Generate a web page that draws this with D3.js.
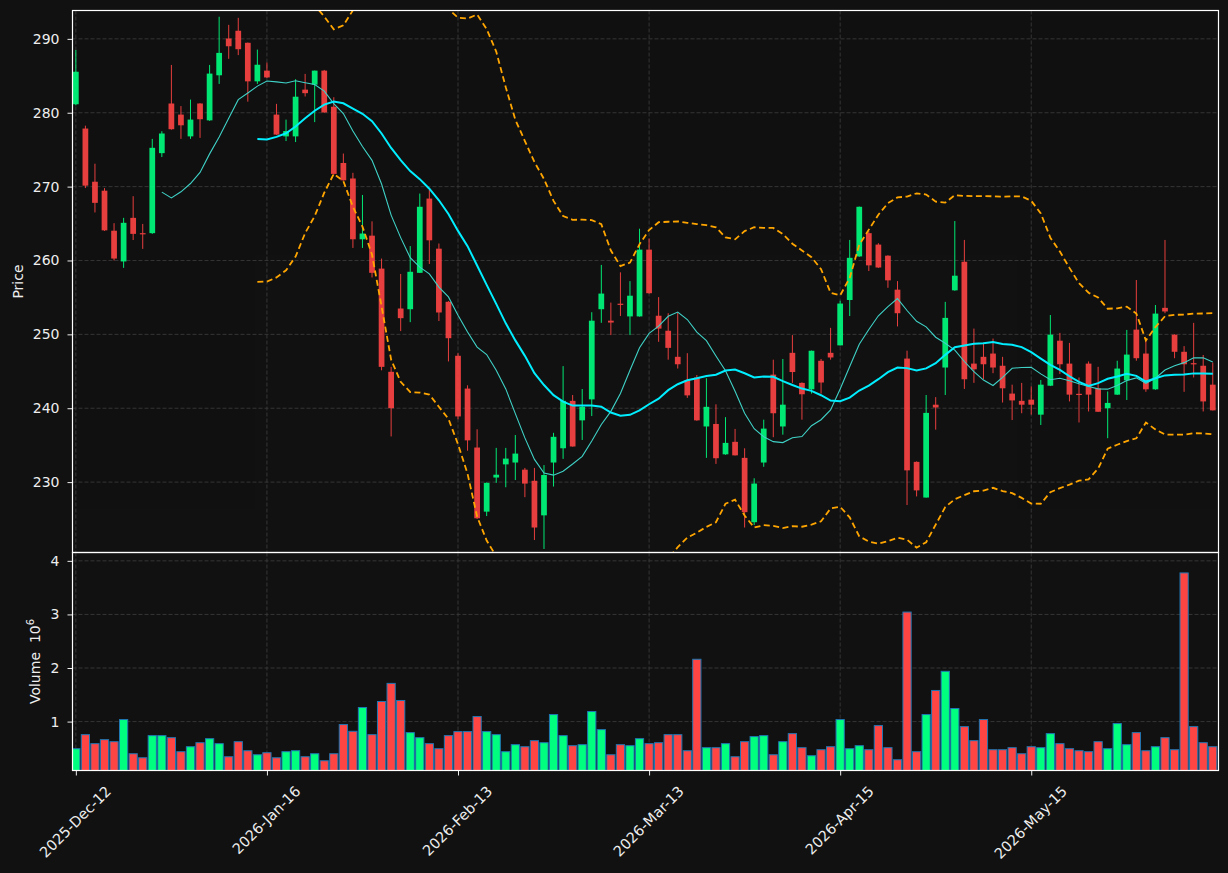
<!DOCTYPE html>
<html>
<head>
<meta charset="utf-8">
<script src="https://cdn.jsdelivr.net/npm/d3@7"></script>
<style>
  html, body { margin: 0; padding: 0; background: #111111; }
  svg { display: block; font-family: "DejaVu Sans", sans-serif; }
</style>
</head>
<body>
<svg id="chart" width="1228" height="873"></svg>
<script>
// OHLC, one entry per trading day
const open = [281.15,277.86,270.66,269.45,264.03,259.87,265.77,263.7,263.7,274.53,
  281.25,279.75,276.8,281.25,278.97,285.07,290.05,291.1,289.47,284.25,
  285.7,279.75,276.8,276.8,283.13,283.8,285.7,280.81,273.2,271.1,
  262.87,263.36,258.9,244.93,253.5,253.4,258.33,268.38,261.6,254.41,
  247.1,242.66,234.68,226.0,230.62,232.4,232.65,231.68,230.18,225.5,
  232.65,234.58,241.0,238.36,241.2,253.4,251.85,254.15,252.43,252.43,
  261.47,252.52,250.49,246.96,243.82,244.16,237.53,237.87,233.76,235.45,
  233.28,224.57,232.65,244.55,237.53,247.5,243.43,242.56,246.42,247.5,
  248.51,254.65,260.55,263.7,262.15,260.65,256.05,246.72,232.74,227.91,
  240.48,245.51,255.96,259.83,246.04,246.96,247.4,245.75,241.98,241.0,
  241.16,239.13,243.05,249.14,246.04,241.95,246.04,242.7,240.0,241.84,
  243.77,250.64,247.4,242.56,253.59,249.96,247.64,246.1,245.75,243.19]
const high = [288.5,278.25,273.1,269.8,265.05,265.77,268.7,264.95,276.46,277.5,
  286.47,280.9,281.78,281.3,286.47,293.0,291.9,292.85,289.5,288.55,
  286.8,281.2,279.07,284.54,285.26,285.7,285.8,282.1,274.48,271.87,
  268.87,265.3,260.26,245.6,258.18,261.95,269.06,269.55,262.3,254.5,
  247.45,243.1,237.15,229.95,234.63,234.63,236.37,231.92,231.92,232.3,
  236.67,245.7,241.79,242.6,253.0,259.4,254.3,258.4,257.2,264.3,
  262.97,255.04,252.86,253.0,247.45,244.5,244.06,240.53,238.79,237.2,
  234.58,230.52,238.45,246.57,246.67,249.9,243.5,247.8,246.67,250.88,
  254.55,262.78,267.3,263.98,262.34,260.7,257.21,247.79,232.8,241.79,
  241.5,254.4,265.34,262.78,250.78,248.89,249.43,246.96,243.19,243.43,
  242.95,243.82,252.62,250.2,248.84,244.16,246.33,245.6,242.27,246.43,
  250.6,257.36,249.24,253.97,262.78,250.0,248.41,251.56,247.21,246.18]
const low = [281.0,269.8,266.5,264.0,260.0,259.0,262.77,261.57,263.6,274.0,
  277.7,276.46,276.46,276.6,278.9,283.9,287.3,287.8,281.5,283.9,
  284.7,277.0,276.17,276.03,282.2,278.73,280.0,271.6,270.8,261.7,
  261.7,257.7,245.13,236.18,250.44,251.65,258.3,259.53,251.8,246.33,
  238.5,234.25,225.0,225.4,229.9,229.3,230.28,227.96,222.16,220.95,
  229.4,233.14,234.8,235.7,238.94,251.56,249.9,252.48,249.9,252.4,
  255.5,248.99,246.57,245.37,241.4,238.3,233.28,232.46,233.7,233.6,
  223.85,224.19,232.07,236.08,236.42,243.43,238.45,241.98,241.98,246.57,
  248.5,252.48,260.5,258.57,259.0,256.3,251.07,226.9,228.06,227.9,
  237.1,241.79,255.9,242.61,243.43,243.92,244.74,240.77,238.4,239.32,
  239.13,237.73,243.0,244.64,240.92,238.07,239.56,239.5,235.94,241.8,
  241.11,246.43,242.22,242.5,252.86,246.77,242.22,244.16,239.56,239.7]
const close = [285.55,270.13,267.8,264.08,260.26,265.1,263.6,263.6,275.25,277.19,
  277.77,278.3,279.07,279.12,285.3,288.1,289.0,288.6,284.25,286.5,
  284.78,277.04,277.52,282.17,282.65,285.7,280.04,271.72,270.85,262.87,
  263.65,258.33,245.6,240.0,252.19,258.47,267.27,262.73,252.96,249.48,
  238.89,235.65,225.1,229.9,231.0,233.18,233.86,229.8,223.85,230.96,
  236.13,241.0,234.82,240.2,251.85,255.52,251.6,254.05,255.23,261.47,
  255.57,250.78,248.17,245.95,241.74,238.36,240.19,233.23,235.31,233.62,
  225.93,229.8,237.24,239.32,240.48,244.9,241.89,247.78,243.48,246.87,
  254.17,260.36,267.27,259.34,259.05,257.31,252.86,231.59,228.88,239.37,
  240.1,252.23,257.94,243.92,245.27,245.95,245.51,242.7,241.06,240.48,
  240.48,243.19,249.96,245.95,241.84,241.85,241.84,239.52,240.72,245.37,
  247.26,246.77,242.56,252.81,253.1,247.64,245.95,246.0,240.92,239.71]
// volume in millions
const volume = [0.494,0.756,0.588,0.663,0.625,1.038,0.40,0.325,0.738,0.738,
  0.70,0.438,0.531,0.606,0.681,0.588,0.344,0.625,0.456,0.381,
  0.419,0.325,0.438,0.456,0.344,0.40,0.269,0.40,0.944,0.819,
  1.263,0.756,1.375,1.713,1.394,0.794,0.70,0.588,0.494,0.738,
  0.813,0.813,1.094,0.813,0.756,0.438,0.569,0.531,0.644,0.606,
  1.131,0.738,0.55,0.569,1.188,0.85,0.381,0.569,0.55,0.681,
  0.588,0.606,0.756,0.756,0.456,2.163,0.513,0.513,0.588,0.344,
  0.625,0.72,0.738,0.381,0.625,0.775,0.513,0.363,0.475,0.531,
  1.038,0.494,0.55,0.475,0.925,0.513,0.288,3.044,0.438,1.131,
  1.581,1.938,1.244,0.906,0.644,1.038,0.475,0.475,0.513,0.40,
  0.531,0.513,0.775,0.588,0.494,0.456,0.438,0.625,0.494,0.963,
  0.569,0.794,0.456,0.531,0.70,0.475,3.775,0.906,0.606,0.531]

const tickLabels = ['2025-Dec-12', '2026-Jan-16', '2026-Feb-13', '2026-Mar-13', '2026-Apr-15', '2026-May-15']
const tickIndex = [0, 20, 40, 60, 80, 100]
const priceTicks = [230, 240, 250, 260, 270, 280, 290]
const volumeTicks = [1, 2, 3, 4]

const data = close.map((c, i) => ({i: i, o: open[i], h: high[i], l: low[i], c: c, v: volume[i]}))

// rolling helper for the moving averages / bands
function rolling(arr, n, fn) {
  return arr.map((_, i) => i < n - 1 ? null : fn(arr.slice(i - n + 1, i + 1)))
}
const mav10 = rolling(close, 10, d3.mean)
const mav20 = rolling(close, 20, d3.mean)
const sd20 = rolling(close, 20, d3.deviation)
const bbUpper = mav20.map((m, i) => m == null ? null : m + 2 * sd20[i])
const bbLower = mav20.map((m, i) => m == null ? null : m - 2 * sd20[i])

// layout
const L = 72.5, R = 1218.5, T = 10.5, MID = 552.5, B = 770.5
const bg = '#111111', fg = '#eeeeee', gridCol = '#3a3a3a'
const upCol = '#00ff7f', downCol = '#ff4444'

const svg = d3.select('#chart')
svg.append('rect').attr('width', 1228).attr('height', 873).attr('fill', bg)

const x = d3.scaleLinear().domain([-0.35, 119.6]).range([L, R])
const yP = d3.scaleLinear().domain([220.47, 293.84]).range([MID, T])
const yV = d3.scaleLinear().domain([0.087, 4.156]).range([B, MID])
const step = x(1) - x(0)

const defs = svg.append('defs')
defs.append('clipPath').attr('id', 'clipMain').append('rect')
  .attr('x', L).attr('y', T).attr('width', R - L).attr('height', MID - T)
defs.append('clipPath').attr('id', 'clipVol').append('rect')
  .attr('x', L).attr('y', MID).attr('width', R - L).attr('height', B - MID)

// grids
function grid(g, ys, y0, y1) {
  g.selectAll('.hg').data(ys).join('line').attr('class', 'hg')
    .attr('x1', L).attr('x2', R).attr('y1', d => d).attr('y2', d => d)
  g.selectAll('.vg').data(tickIndex).join('line').attr('class', 'vg')
    .attr('x1', d => x(d)).attr('x2', d => x(d)).attr('y1', y0).attr('y2', y1)
  g.selectAll('line').attr('stroke', gridCol).attr('stroke-width', 0.9).attr('stroke-dasharray', '4,2')
}
grid(svg.append('g'), priceTicks.map(yP), T, MID)
grid(svg.append('g'), volumeTicks.map(yV), MID, B)

// candles
const candles = svg.append('g').attr('clip-path', 'url(#clipMain)').attr('opacity', 0.9)
candles.selectAll('.wick').data(data).join('line').attr('class', 'wick')
  .attr('x1', d => x(d.i)).attr('x2', d => x(d.i))
  .attr('y1', d => yP(d.h)).attr('y2', d => yP(d.l))
  .attr('stroke', d => d.c >= d.o ? upCol : downCol).attr('stroke-width', 1)
candles.selectAll('.body').data(data).join('rect').attr('class', 'body')
  .attr('x', d => x(d.i) - step * 0.3).attr('width', step * 0.6)
  .attr('y', d => yP(Math.max(d.o, d.c)))
  .attr('height', d => Math.max(1.2, Math.abs(yP(d.o) - yP(d.c))))
  .attr('fill', d => d.c >= d.o ? upCol : downCol)

// moving averages and bands
const lines = svg.append('g').attr('clip-path', 'url(#clipMain)')
const lineGen = d3.line().defined(d => d != null).x((d, i) => x(i)).y(d => yP(d))
lines.append('path').attr('d', lineGen(mav10)).attr('fill', 'none')
  .attr('stroke', '#3fd1c6').attr('stroke-width', 1.1)
lines.append('path').attr('d', lineGen(mav20)).attr('fill', 'none')
  .attr('stroke', '#00eeff').attr('stroke-width', 2)
lines.selectAll('.bb').data([bbUpper, bbLower]).join('path').attr('class', 'bb')
  .attr('d', d => lineGen(d)).attr('fill', 'none')
  .attr('stroke', '#ffa500').attr('stroke-width', 1.8).attr('stroke-dasharray', '6,3.5')

// volume bars
svg.append('g').attr('clip-path', 'url(#clipVol)')
  .selectAll('rect').data(data).join('rect')
  .attr('x', d => x(d.i) - step * 0.43).attr('width', step * 0.86)
  .attr('y', d => yV(d.v)).attr('height', d => B + 2 - yV(d.v))
  .attr('fill', d => d.c >= d.o ? upCol : downCol)
  .attr('stroke', '#1f77b4').attr('stroke-width', 1)

// axes
function styleAxis(g) {
  g.select('.domain').remove()
  g.selectAll('.tick line').attr('stroke', fg)
  g.selectAll('.tick text').attr('fill', fg).attr('font-size', 14).attr('font-family', '"DejaVu Sans", sans-serif')
}
svg.append('g').attr('transform', `translate(${L},0)`)
  .call(d3.axisLeft(yP).tickValues(priceTicks).tickFormat(d3.format('d')).tickSize(5).tickPadding(8)).call(styleAxis)
svg.append('g').attr('transform', `translate(${L},0)`)
  .call(d3.axisLeft(yV).tickValues(volumeTicks).tickFormat(d3.format('d')).tickSize(5).tickPadding(8)).call(styleAxis)

const xAxis = svg.append('g').attr('transform', `translate(0,${B})`)
  .call(d3.axisBottom(x).tickValues(tickIndex).tickFormat((d, i) => tickLabels[i]).tickSize(5).tickPadding(0))
  .call(styleAxis)
xAxis.selectAll('.tick text').attr('font-size', 14.5).each(function() {
  const t = d3.select(this)
  const w = this.getComputedTextLength()
  const boxH = (w + 14.5) * Math.SQRT1_2
  const cy = 13 + boxH / 2
  t.attr('text-anchor', 'middle').attr('dy', null).attr('dominant-baseline', 'central')
    .attr('y', cy).attr('x', -1).attr('transform', `rotate(-45,-1,${cy})`)
})

// frames
svg.selectAll('.frame').data([[T, MID], [MID, B]]).join('rect').attr('class', 'frame')
  .attr('x', L).attr('y', d => d[0]).attr('width', R - L).attr('height', d => d[1] - d[0])
  .attr('fill', 'none').attr('stroke', '#ffffff').attr('stroke-width', 1.2)

// axis titles
svg.append('text').attr('transform', `translate(23,${(T + MID) / 2}) rotate(-90)`)
  .attr('text-anchor', 'middle').attr('fill', fg).attr('font-size', 14).text('Price')
const vt = svg.append('text').attr('transform', `translate(40,${(MID + B) / 2}) rotate(-90)`)
  .attr('text-anchor', 'middle').attr('fill', fg).attr('font-size', 14).style('white-space', 'pre')
vt.append('tspan').text('Volume  10')
vt.append('tspan').attr('dy', -6).attr('font-size', 10).text('6')
</script>
</body>
</html>
